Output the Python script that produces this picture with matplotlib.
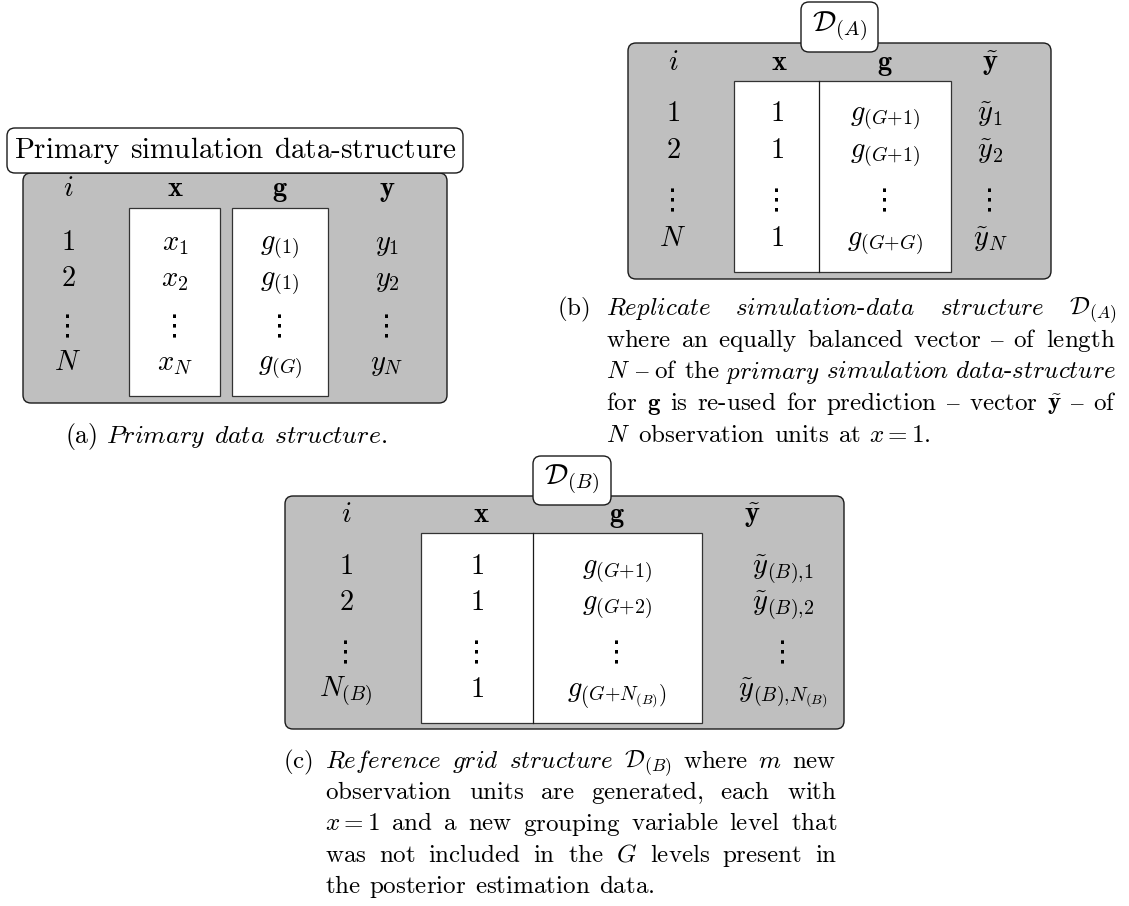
import matplotlib
matplotlib.use("Agg")
import matplotlib.pyplot as plt
from matplotlib.patches import FancyBboxPatch, Rectangle

plt.rcParams["mathtext.fontset"] = "cm"

VD = "⋮"  # vertical dots cell

# ---- table contents ----
head_a = [r"$i$", r"$\mathbf{x}$", r"$\mathbf{g}$", r"$\mathbf{y}$"]
i_a = [r"$1$", r"$2$", VD, r"$N$"]
x_a = [r"$x_1$", r"$x_2$", VD, r"$x_N$"]
g_a = [r"$g_{(1)}$", r"$g_{(1)}$", VD, r"$g_{(G)}$"]
y_a = [r"$y_1$", r"$y_2$", VD, r"$y_N$"]

head_b = [r"$i$", r"$\mathbf{x}$", r"$\mathbf{g}$", r"$\tilde{\mathbf{y}}$"]
i_b = [r"$1$", r"$2$", VD, r"$N$"]
x_b = [r"$1$", r"$1$", VD, r"$1$"]
g_b = [r"$g_{(G{+}1)}$", r"$g_{(G{+}1)}$", VD, r"$g_{(G{+}G)}$"]
y_b = [r"$\tilde{y}_1$", r"$\tilde{y}_2$", VD, r"$\tilde{y}_N$"]

head_c = head_b
i_c = [r"$1$", r"$2$", VD, r"$N_{(B)}$"]
x_c = [r"$1$", r"$1$", VD, r"$1$"]
g_c = [r"$g_{(G{+}1)}$", r"$g_{(G{+}2)}$", VD, r"$g_{\left(G{+}N_{(B)}\right)}$"]
y_c = [r"$\tilde{y}_{(B){,}1}$", r"$\tilde{y}_{(B){,}2}$", VD,
       r"$\tilde{y}_{(B){,}N_{(B)}}$"]

title_a = "Primary simulation data-structure"
title_b = r"$\mathcal{D}_{(A)}$"
title_c = r"$\mathcal{D}_{(B)}$"

# captions: *word* = italic, $..$ = math
cap_a = "(a) *Primary* *data* *structure.*"
cap_b = [
    r"*Replicate* *simulation-data* *structure* $\mathcal{D}_{(A)}$",
    "where an equally balanced vector – of length",
    "$N$ – of the *primary* *simulation* *data-structure*",
    r"for $\mathbf{g}$ is re-used for prediction – vector $\tilde{\mathbf{y}}$ – of",
    "$N$ observation units at $x=1$.",
]
cap_c = [
    r"*Reference* *grid* *structure* $\mathcal{D}_{(B)}$ where $m$ new",
    "observation units are generated, each with",
    "$x=1$ and a new grouping variable level that",
    "was not included in the $G$ levels present in",
    "the posterior estimation data.",
]

FS = 20.5      # table text
FD = 21        # vertical dots
FT = 21        # box titles
FC = 18        # captions
PX = 100 / 72  # px per point
GREY = "#bfbfbf"

fig = plt.figure(figsize=(11.29, 9.06), dpi=100)
ax = fig.add_axes([0, 0, 1, 1])
ax.set_xlim(0, 1129)
ax.set_ylim(906, 0)
ax.axis("off")


def to_math(w):
    if w.startswith("$"):
        if w.endswith("$."):
            return w[:-2] + r"\text{.}$"
        return w
    if w.startswith("*") and w.endswith("*"):
        parts = [r"\mathit{%s}" % p for p in w[1:-1].split("-")]
        return "$" + r"\text{-}".join(parts) + "$"
    return r"$\text{%s}$" % w


pending = []


def words(line, y, x0, x1=None, how="left", size=FC):
    ts = []
    for w in line.split():
        if w == "–":
            t = ax.text(x0, y, "–", fontsize=size, family="STIXGeneral",
                        va="baseline", ha="left")
        else:
            t = ax.text(x0, y, to_math(w), fontsize=size, va="baseline", ha="left")
        ts.append(t)
    pending.append((ts, x0, x1, how, size))


def rbox(x0, y0, x1, y1, fc, z, r=8):
    ax.add_patch(FancyBboxPatch((x0, y0), x1 - x0, y1 - y0,
                                boxstyle="round,pad=0,rounding_size=%d" % r,
                                fc=fc, ec="#1a1a1a", lw=1.0, zorder=z))


def table(cols, col_x, head_x, head_y, row_y):
    for hx, (h, _) in zip(head_x, cols):
        ax.text(hx, head_y, h, fontsize=FS, ha="center", va="baseline", zorder=5)
    for cx, (_, cells) in zip(col_x, cols):
        for ry, s in zip(row_y, cells):
            if s == VD:
                ax.text(cx, ry, s, fontsize=FD, family="DejaVu Sans",
                        ha="center", va="baseline", zorder=5)
            else:
                ax.text(cx, ry, s, fontsize=FS, ha="center", va="baseline",
                        zorder=5)


# ---- panel (a) ----
rbox(23, 173, 447, 403, GREY, 1)
for x0, x1 in [(129, 220), (232, 328)]:
    ax.add_patch(Rectangle((x0, 208), x1 - x0, 188, fc="white",
                           ec="#333333", lw=0.9, zorder=2))
rbox(7, 128, 463, 173, "white", 3)
words(title_a, 158, 235, how="center", size=FT)
table([(head_a[0], i_a), (head_a[1], x_a), (head_a[2], g_a), (head_a[3], y_a)],
      [68, 175, 280, 387], [68, 175, 280, 387], 196, [250, 286, 335, 370])
words(cap_a, 443, 226, how="center", size=18.5)

# ---- panel (b) ----
rbox(628, 43, 1051, 279, GREY, 1)
ax.add_patch(Rectangle((734, 81), 217, 191, fc="white", ec="#333333",
                       lw=0.9, zorder=2))
ax.plot([819, 819], [81, 272], color="#1a1a1a", lw=0.9, zorder=3)
rbox(801, 2, 878, 52, "white", 3)
ax.text(839.5, 32, title_b, fontsize=FT, ha="center", va="baseline", zorder=5)
table([(head_b[0], i_b), (head_b[1], x_b), (head_b[2], g_b), (head_b[3], y_b)],
      [673, 777, 885, 990], [673, 779, 885, 990], 70, [121, 158, 209, 246])
ax.text(557, 315, r"$\text{(b)}$", fontsize=FC, va="baseline")
for k, line in enumerate(cap_b):
    y = 315 + k * 31.75
    if k < len(cap_b) - 1:
        words(line, y, 606, 1116, how="justify")
    else:
        words(line, y, 606)

# ---- panel (c) ----
rbox(285, 496, 844, 729, GREY, 1)
ax.add_patch(Rectangle((421, 533), 281, 190, fc="white", ec="#333333",
                       lw=0.9, zorder=2))
ax.plot([533, 533], [533, 723], color="#1a1a1a", lw=0.9, zorder=3)
rbox(533, 456, 611, 505, "white", 3)
ax.text(572, 485, title_c, fontsize=FT, ha="center", va="baseline", zorder=5)
table([(head_c[0], i_c), (head_c[1], x_c), (head_c[2], g_c), (head_c[3], y_c)],
      [346, 477, 617, 783], [346, 481, 617, 752], 522, [574, 610, 661, 697])
ax.text(283, 768, r"$\text{(c)}$", fontsize=FC, va="baseline")
for k, line in enumerate(cap_c):
    y = 768 + k * 31.25
    if k < len(cap_c) - 1:
        words(line, y, 325, 837, how="justify")
    else:
        words(line, y, 325)

# ---- word layout (needs measured widths) ----
fig.canvas.draw()
rend = fig.canvas.get_renderer()
for ts, x0, x1, how, size in pending:
    w = [t.get_window_extent(rend).width for t in ts]
    gap = 0.333 * size * PX
    if how == "justify" and len(ts) > 1:
        gap = (x1 - x0 - sum(w)) / (len(ts) - 1)
    if how == "center":
        x0 = x0 - (sum(w) + gap * (len(ts) - 1)) / 2
    x = x0
    for t, wi in zip(ts, w):
        t.set_x(x)
        x += wi + gap

fig.savefig("out.png", dpi=100)
